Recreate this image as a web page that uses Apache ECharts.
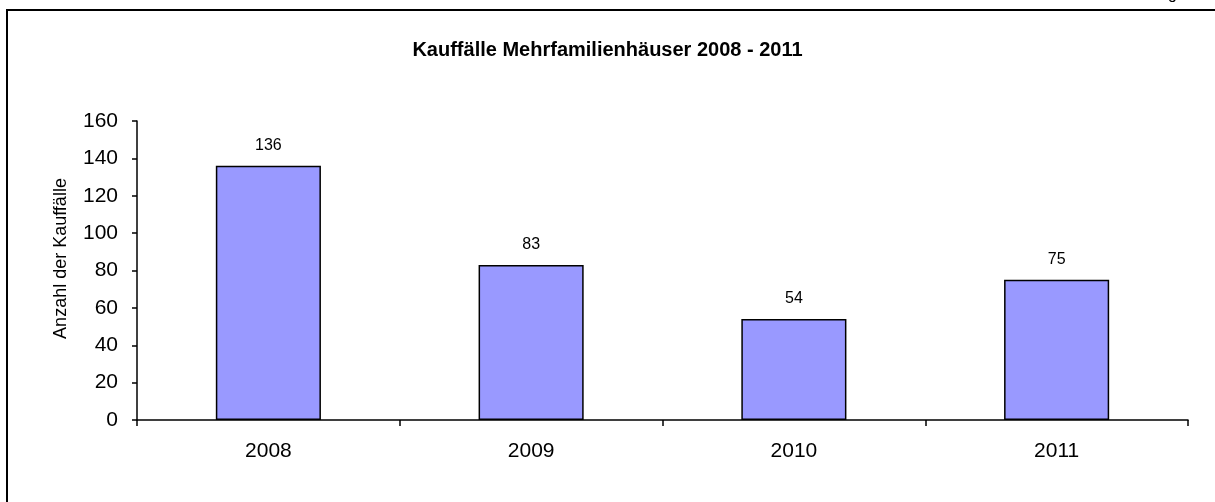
<!DOCTYPE html>
<html>
<head>
<meta charset="utf-8">
<title>Kauffälle Mehrfamilienhäuser</title>
<script src="https://cdn.jsdelivr.net/npm/echarts@6/dist/echarts.min.js"></script>
<style>
  html, body { margin: 0; padding: 0; background: #fff; }
  #chart { width: 1215px; height: 502px; }
</style>
</head>
<body>
<div id="chart"></div>
<script>
// Daten aus der Vorlage
const years = ['2008', '2009', '2010', '2011'];
const kauffaelle = [136, 83, 54, 75];
const yTicks = { min: 0, max: 160, interval: 20 };

const font = '"Liberation Sans", Arial, sans-serif';
const chart = echarts.init(document.getElementById('chart'));

const option = {
    animation: false,
    backgroundColor: '#fff',
    title: {
        text: 'Kauffälle Mehrfamilienhäuser 2008 - 2011',
        left: 'center',
        top: 35,
        padding: [5, 0, 5, 10],
        textStyle: { fontFamily: font, fontSize: 20, fontWeight: 'bold', color: '#000' }
    },
    graphic: [
        {
            type: 'rect',
            shape: { x: 7, y: 10, width: 1300, height: 600 },
            style: { fill: 'none', stroke: '#000', lineWidth: 2 },
            silent: true
        },
        {
            type: 'text',
            x: 1168,
            y: -13,
            style: { text: 'g', font: '16px ' + font, fill: '#000' },
            silent: true
        }
    ],
    grid: { left: 137, right: 27, top: 121, bottom: 82 },
    xAxis: {
        type: 'category',
        data: years,
        axisLine: { lineStyle: { color: '#000', width: 1.5 } },
        axisTick: { show: true, length: 6, lineStyle: { color: '#000', width: 1.5 } },
        axisLabel: { color: '#000', fontFamily: font, fontSize: 21, margin: 21 },
        splitLine: { show: false }
    },
    yAxis: {
        type: 'value',
        min: yTicks.min,
        max: yTicks.max,
        interval: yTicks.interval,
        name: 'Anzahl der Kauffälle',
        nameLocation: 'middle',
        nameGap: 67,
        nameRotate: 90,
        nameTextStyle: { color: '#000', fontFamily: font, fontSize: 18, padding: [0, 0, 0, 24] },
        axisLine: { show: true, lineStyle: { color: '#000', width: 1.5 } },
        axisTick: { show: true, length: 5, lineStyle: { color: '#000', width: 1.5 } },
        axisLabel: { color: '#000', fontFamily: font, fontSize: 21, margin: 19 },
        splitLine: { show: false }
    },
    series: [
        {
            name: 'Kauffälle',
            type: 'bar',
            data: kauffaelle,
            barWidth: '40%',
            itemStyle: { color: '#9999FF', borderColor: '#000', borderWidth: 1.5 },
            label: {
                show: true,
                position: 'top',
                distance: 12,
                color: '#000',
                fontFamily: font,
                fontSize: 16
            }
        }
    ]
};

chart.setOption(option);
</script>
</body>
</html>
